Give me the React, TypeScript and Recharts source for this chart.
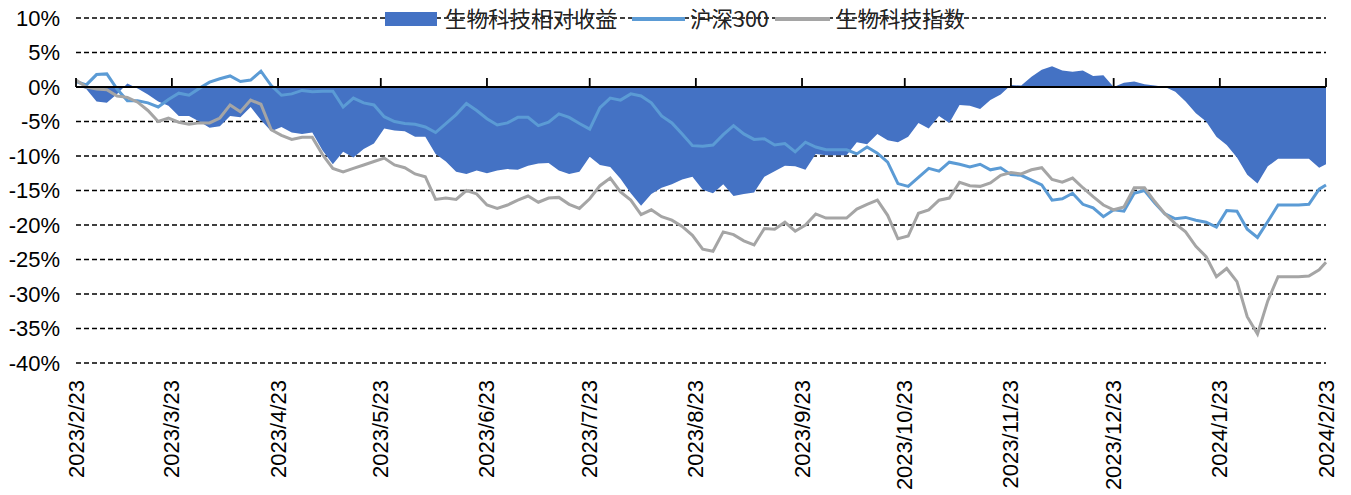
import React from 'react';
import {
  ComposedChart,
  Area,
  Line,
  XAxis,
  YAxis,
  CartesianGrid,
  ReferenceLine,
  Customized,
} from 'recharts';

// Calendar day offsets from 2023/2/23 (category positions)
const DAYS = [
  0, 3, 6, 9, 12, 15, 18, 21, 24, 27, 30, 33, 36, 39, 42, 45, 48, 51, 54, 57,
  60, 63, 66, 69, 72, 75, 78, 81, 84, 87, 90, 93, 96, 99, 102, 105, 108, 111, 114, 117,
  120, 123, 126, 129, 132, 135, 138, 141, 144, 147, 150, 153, 156, 159, 162, 165, 168, 171, 174, 177,
  180, 183, 186, 189, 192, 195, 198, 201, 204, 207, 210, 213, 216, 219, 222, 225, 228, 231, 234, 237,
  240, 243, 246, 249, 252, 255, 258, 261, 264, 267, 270, 273, 276, 279, 282, 285, 288, 291, 294, 297,
  300, 303, 306, 309, 312, 315, 318, 321, 324, 327, 330, 333, 336, 339, 342, 345, 348, 351, 354, 357,
  360, 363, 365,
];

// 沪深300 (%)
const HS300 = [
  0.8, 0.3, 1.8, 1.9, -0.3, -2.0, -2.0, -2.3, -2.9, -1.8, -0.9, -1.2, -0.2, 0.7, 1.2, 1.6, 0.8, 1.0, 2.3, 0.2,
  -1.2, -1.0, -0.5, -0.7, -0.6, -0.6, -2.9, -1.6, -2.3, -2.6, -4.3, -5.0, -5.3, -5.4, -5.8, -6.6, -5.3, -4.0, -2.4, -3.4,
  -4.6, -5.5, -5.2, -4.4, -4.4, -5.6, -5.1, -3.9, -4.4, -5.3, -6.1, -3.0, -1.6, -1.9, -1.0, -1.3, -2.3, -4.2, -5.2, -6.8,
  -8.5, -8.6, -8.4, -6.9, -5.6, -6.8, -7.6, -7.5, -8.4, -8.2, -9.4, -8.0, -8.7, -9.1, -9.1, -9.1, -9.7, -8.7, -9.6, -10.9,
  -14.0, -14.4, -13.1, -11.8, -12.2, -10.9, -11.2, -11.6, -11.2, -12.0, -11.7, -12.7, -12.8, -13.5, -14.2, -16.4, -16.2, -15.4, -17.0, -17.5,
  -18.8, -17.8, -18.0, -15.4, -15.0, -16.8, -18.4, -19.1, -18.9, -19.3, -19.6, -20.3, -17.9, -18.0, -20.6, -21.8, -19.5, -17.1, -17.1, -17.1,
  -17.0, -14.8, -14.2,
];

// 生物科技指数 (%)
const BIO = [
  1.0, 0.0, -0.3, -0.4, -1.3, -1.5, -2.2, -3.4, -5.0, -4.5, -5.1, -5.4, -5.2, -5.2, -4.5, -2.6, -3.6, -1.9, -2.5, -6.2,
  -7.0, -7.6, -7.3, -7.3, -9.8, -11.8, -12.3, -11.8, -11.3, -10.8, -10.3, -11.3, -11.7, -12.6, -13.0, -16.3, -16.1, -16.3, -15.0, -15.5,
  -17.1, -17.6, -17.1, -16.4, -15.8, -16.7, -16.1, -16.0, -17.0, -17.6, -16.2, -14.3, -13.2, -15.2, -16.4, -18.5, -17.8, -18.8, -19.3, -20.2,
  -21.5, -23.5, -23.8, -21.0, -21.4, -22.3, -22.9, -20.5, -20.6, -19.6, -20.9, -20.0, -18.4, -19.0, -19.0, -19.0, -17.7, -17.0, -16.4, -18.6,
  -22.0, -21.6, -18.3, -17.8, -16.4, -16.1, -13.8, -14.3, -14.4, -13.9, -12.8, -12.4, -12.6, -12.0, -11.7, -13.4, -13.8, -13.2, -14.6, -15.9,
  -17.1, -17.8, -17.4, -14.6, -14.6, -16.6, -18.4, -19.8, -21.0, -23.1, -24.6, -27.5, -26.3, -28.2, -33.3, -35.8, -31.0, -27.5, -27.5, -27.5,
  -27.4, -26.5, -25.4,
];

// 生物科技相对收益 (%)
const REL = [
  0.2, -0.3, -2.1, -2.3, -1.0, 0.5, -0.2, -1.1, -2.1, -2.7, -4.2, -4.2, -5.0, -5.9, -5.7, -4.2, -4.4, -2.9, -4.8, -6.4,
  -5.8, -6.6, -6.8, -6.6, -9.2, -11.2, -9.4, -10.2, -9.0, -8.2, -6.0, -6.3, -6.4, -7.2, -7.2, -9.7, -10.8, -12.3, -12.6, -12.1,
  -12.5, -12.1, -11.9, -12.0, -11.4, -11.1, -11.0, -12.1, -12.6, -12.3, -10.1, -11.3, -11.6, -13.3, -15.4, -17.2, -15.5, -14.6, -14.1, -13.4,
  -13.0, -14.9, -15.4, -14.1, -15.8, -15.5, -15.3, -13.0, -12.2, -11.4, -11.5, -12.0, -9.7, -9.9, -9.9, -9.9, -8.0, -8.3, -6.8, -7.7,
  -8.0, -7.2, -5.2, -6.0, -4.2, -5.2, -2.6, -2.7, -3.2, -1.9, -1.1, 0.3, 0.2, 1.5, 2.5, 3.0, 2.4, 2.2, 2.4, 1.6,
  1.7, 0.0, 0.6, 0.8, 0.4, 0.2, 0.0, -0.7, -2.1, -3.8, -5.0, -7.2, -8.4, -10.2, -12.7, -14.0, -11.5, -10.4, -10.4, -10.4,
  -10.4, -11.7, -11.2,
];

const TICK_DAYS = [0, 28, 59, 89, 120, 150, 181, 212, 242, 273, 303, 334, 365];
const TICK_LABELS = [
  '2023/2/23', '2023/3/23', '2023/4/23', '2023/5/23', '2023/6/23', '2023/7/23', '2023/8/23',
  '2023/9/23', '2023/10/23', '2023/11/23', '2023/12/23', '2024/1/23', '2024/2/23',
];
const Y_TICKS = [10, 5, 0, -5, -10, -15, -20, -25, -30, -35, -40];

const SERIES_NAMES = ['生物科技相对收益', '沪深300', '生物科技指数'];
const COLORS = { rel: '#4472C4', hs: '#5B9BD5', bio: '#A5A5A5' };

const LATIN = '"Liberation Sans", Arial, sans-serif';
const CJK = '"Noto Sans CJK SC", "Liberation Sans", sans-serif';

const data = DAYS.map((d, i) => ({ day: d, rel: REL[i], hs: HS300[i], bio: BIO[i] }));

const XTick = (props: any) => {
  const { x, y, payload } = props;
  const idx = TICK_DAYS.indexOf(payload.value);
  const label = idx >= 0 ? TICK_LABELS[idx] : '';
  return (
    <text
      x={x}
      y={y}
      transform={`rotate(-90 ${x} ${y})`}
      textAnchor="end"
      dominantBaseline="central"
      fontSize={22}
      fill="#000"
      fontFamily={LATIN}
    >
      {label}
    </text>
  );
};

// legend drawn inside the svg (svg top is at page y = 0)
const LegendSvg = () => (
  <g>
    <rect x={377} y={12} width={52} height={14} fill={COLORS.rel} />
    <text x={437} y={27} fontSize={21.5} fill="#222" fontFamily={CJK}>
      {SERIES_NAMES[0]}
    </text>
    <line x1={624} x2={677} y1={19} y2={19} stroke={COLORS.hs} strokeWidth={4} />
    <text x={682} y={27} fontSize={21.5} fill="#222" fontFamily={CJK}>
      {SERIES_NAMES[1]}
    </text>
    <line x1={767} x2={822} y1={19} y2={19} stroke={COLORS.bio} strokeWidth={4} />
    <text x={828} y={27} fontSize={21.5} fill="#222" fontFamily={CJK}>
      {SERIES_NAMES[2]}
    </text>
  </g>
);

export default function App() {
  return (
    <div style={{ width: 1343, height: 496, marginTop: -8, fontFamily: LATIN }}>
      <ComposedChart
        width={1343}
        height={496}
        data={data}
        margin={{ top: 18, right: 25, bottom: 13, left: 0 }}
      >
        <Customized component={LegendSvg} />
        <CartesianGrid
          vertical={false}
          stroke="#000"
          strokeWidth={1.5}
          strokeDasharray="5 3"
        />
        <XAxis
          dataKey="day"
          type="number"
          domain={[0, 365]}
          ticks={TICK_DAYS}
          interval={0}
          axisLine={false}
          tickLine={false}
          tickSize={0}
          tickMargin={17}
          height={120}
          tick={<XTick />}
        />
        <YAxis
          type="number"
          domain={[-40, 10]}
          ticks={Y_TICKS}
          interval={0}
          width={68}
          axisLine={false}
          tickLine={false}
          tickSize={0}
          tickMargin={16}
          tickFormatter={(v: number) => `${v}%`}
          tick={{ fontSize: 22, fill: '#000', fontFamily: LATIN }}
        />
        <Area
          type="linear"
          dataKey="rel"
          name={SERIES_NAMES[0]}
          baseValue={0}
          stroke="none"
          fill={COLORS.rel}
          fillOpacity={1}
          isAnimationActive={false}
          dot={false}
          activeDot={false}
        />
        <Line
          type="linear"
          dataKey="hs"
          name={SERIES_NAMES[1]}
          stroke={COLORS.hs}
          strokeWidth={3}
          dot={false}
          activeDot={false}
          isAnimationActive={false}
        />
        <Line
          type="linear"
          dataKey="bio"
          name={SERIES_NAMES[2]}
          stroke={COLORS.bio}
          strokeWidth={3}
          dot={false}
          activeDot={false}
          isAnimationActive={false}
        />
        <ReferenceLine y={0} stroke="#000" strokeWidth={2.2} />
        {TICK_DAYS.map((d) => (
          <ReferenceLine
            key={d}
            segment={[
              { x: d, y: 0 },
              { x: d, y: 1.3 },
            ]}
            stroke="#000"
            strokeWidth={1.8}
          />
        ))}
      </ComposedChart>
    </div>
  );
}
